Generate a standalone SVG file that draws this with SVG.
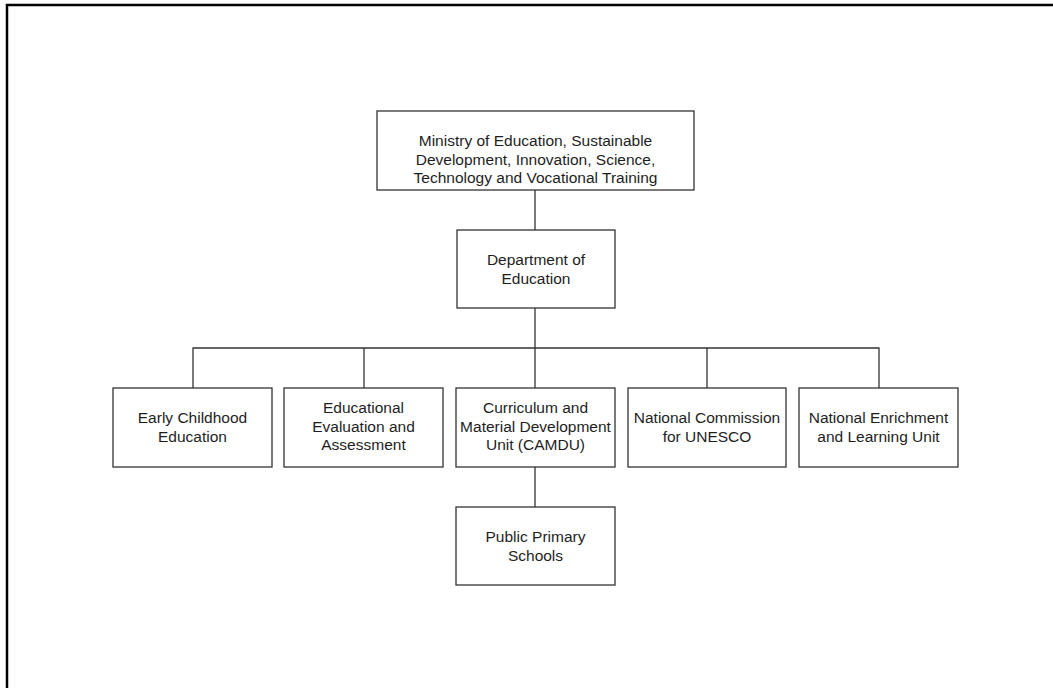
<svg xmlns="http://www.w3.org/2000/svg" width="1053" height="688" viewBox="0 0 1053 688">
  <style>
    .box { fill: #ffffff; stroke: #333333; stroke-width: 1.3; }
    .edge { fill: none; stroke: #333333; stroke-width: 1.3; }
    .frame { fill: none; stroke: #000000; stroke-width: 2.5; }
    text { font-family: "Liberation Sans", Arial, Helvetica, sans-serif; font-size: 15.5px; fill: #1e1e1e; text-anchor: middle; }
  </style>
  <rect x="0" y="0" width="1053" height="688" fill="#ffffff"/>
  <!-- page frame (top and left edges) -->
  <path class="frame" d="M7 688 V5 H1053"/>

  <g id="connectors">
    <path class="edge" d="M535 190 V230"/>
    <path class="edge" d="M535 308 V348"/>
    <path class="edge" d="M193 388 V348 H879 V388"/>
    <path class="edge" d="M364 348 V388"/>
    <path class="edge" d="M535 348 V388"/>
    <path class="edge" d="M707 348 V388"/>
    <path class="edge" d="M535 467 V507"/>
  </g>

  <g id="ministry">
    <rect class="box" x="377" y="111" width="317" height="79"/>
    <text x="535.5" y="146">Ministry of Education, Sustainable</text>
    <text x="535.5" y="164.5">Development, Innovation, Science,</text>
    <text x="535.5" y="183">Technology and Vocational Training</text>
  </g>

  <g id="department">
    <rect class="box" x="457" y="230" width="158" height="78"/>
    <text x="536" y="265">Department of</text>
    <text x="536" y="283.5">Education</text>
  </g>

  <g id="early-childhood">
    <rect class="box" x="113" y="388" width="159" height="79"/>
    <text x="192.5" y="423">Early Childhood</text>
    <text x="192.5" y="441.5">Education</text>
  </g>

  <g id="evaluation">
    <rect class="box" x="284" y="388" width="159" height="79"/>
    <text x="363.5" y="413">Educational</text>
    <text x="363.5" y="431.5">Evaluation and</text>
    <text x="363.5" y="450">Assessment</text>
  </g>

  <g id="camdu">
    <rect class="box" x="456" y="388" width="159" height="79"/>
    <text x="535.5" y="413">Curriculum and</text>
    <text x="535.5" y="431.5">Material Development</text>
    <text x="535.5" y="450">Unit (CAMDU)</text>
  </g>

  <g id="unesco">
    <rect class="box" x="628" y="388" width="158" height="79"/>
    <text x="707" y="423">National Commission</text>
    <text x="707" y="441.5">for UNESCO</text>
  </g>

  <g id="enrichment">
    <rect class="box" x="799" y="388" width="159" height="79"/>
    <text x="878.5" y="423">National Enrichment</text>
    <text x="878.5" y="441.5">and Learning Unit</text>
  </g>

  <g id="primary-schools">
    <rect class="box" x="456" y="507" width="159" height="78"/>
    <text x="535.5" y="542">Public Primary</text>
    <text x="535.5" y="560.5">Schools</text>
  </g>
</svg>
